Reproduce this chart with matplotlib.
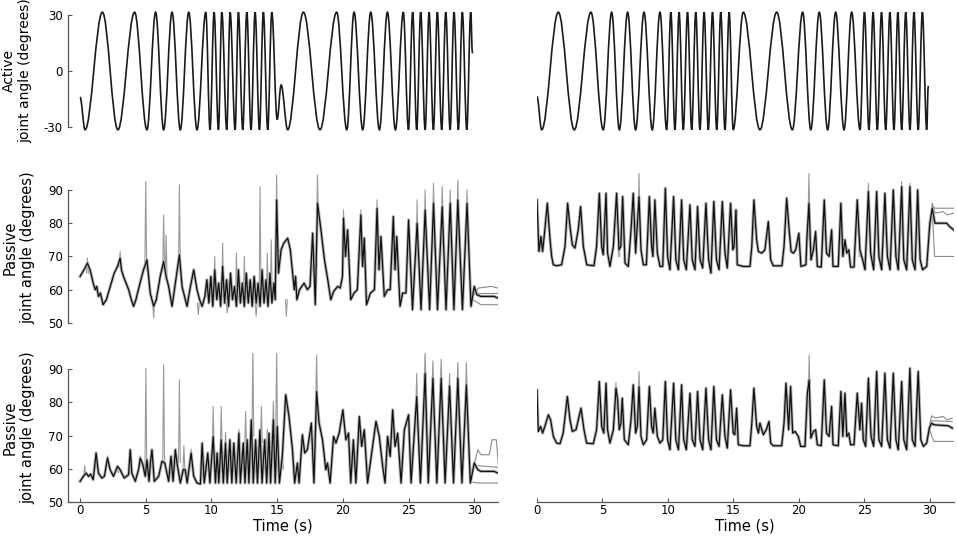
import matplotlib
matplotlib.use("Agg")
import matplotlib.pyplot as plt
from matplotlib.path import Path
from matplotlib.patches import PathPatch

# ---- active joint angle: extrema of the imposed movement (s, degrees) ----
act_left_t = [0, 0.38, 1.70, 2.88, 4.15, 5.09, 5.75, 6.36, 7.0, 7.63, 8.27, 8.9, 9.57,
              9.89, 10.2, 10.53, 10.79, 11.16, 11.42, 11.8, 12.05, 12.38, 12.69, 13.01,
              13.32, 13.65, 13.95, 14.28, 14.59, 15.0, 15.3, 15.8, 17.0, 18.26, 19.53,
              20.3, 20.85, 21.51, 22.12, 22.78, 23.39, 24.0, 24.6, 24.99, 25.31, 25.62,
              25.92, 26.26, 26.56, 26.89, 27.19, 27.52, 27.83, 28.16, 28.46, 28.79,
              29.09, 29.43, 29.73, 29.86]
act_left_v = [-14, -31.5, 31.5, -31.5, 31.5, -31.5, 31.5, -31.5, 31.5, -31.5, 31.5, -31.5, 31.5,
              -31.5, 31.5, -31.5, 31.5, -31.5, 31.5, -31.5, 31.5, -31.5, 31.5, -31.5,
              31.5, -31.5, 31.5, -31.5, 31.5, -26, -7.5, -31.5, 31.5, -31.5, 31.5,
              -31.5, 31.5, -31.5, 31.5, -31.5, 31.5, -31.5, 31.5, -31.5, 31.5, -31.5,
              31.5, -31.5, 31.5, -31.5, 31.5, -31.5, 31.5, -31.5, 31.5, -31.5,
              31.5, -31.5, 31.5, 9.5]

act_right_t = [0, 0.36, 1.63, 2.85, 4.12, 5.06, 5.7, 6.29, 6.92, 7.53, 8.17, 8.8, 9.39,
               9.9, 10.22, 10.53, 10.85, 11.17, 11.49, 11.81, 12.12, 12.44, 12.76, 13.08,
               13.4, 13.72, 14.03, 14.35, 14.67, 14.98, 15.75, 17.02, 18.3, 19.5, 20.28,
               20.9, 21.55, 22.19, 22.8, 23.44, 24.02, 24.66, 25.0, 25.34, 25.66, 25.98,
               26.3, 26.62, 26.94, 27.25, 27.55, 27.84, 28.15, 28.47, 28.78, 29.1, 29.42,
               29.75, 29.87]
act_right_v = [-13.7, -31.5, 31.5, -31.5, 31.5, -31.5, 31.5, -31.5, 31.5, -31.5, 31.5, -31.5, 31.5,
               -31.5, 31.5, -31.5, 31.5, -31.5, 31.5, -31.5, 31.5, -31.5, 31.5, -31.5,
               31.5, -31.5, 31.5, -31.5, 31.5, -31.5, 31.5, -31.5, 31.5, -31.5, 31.5,
               -31.5, 31.5, -31.5, 31.5, -31.5, 31.5, -31.5, 31.5, -31.5, 31.5, -31.5,
               31.5, -31.5, 31.5, -31.5, 31.5, -31.5, 31.5, -31.5, 31.5, -31.5, 31.5,
               -31.5, -8]

# ---- passive joint angle, middle left (mean trace) ----
pml_t = [0, 0.3, 0.56, 0.76, 1.0, 1.15, 1.27, 1.4, 1.55, 1.75, 2.0, 2.3, 2.6, 2.85, 3.05, 3.15,
         3.3, 3.5, 3.7, 3.9, 4.07, 4.25, 4.5, 4.83, 5.09, 5.34, 5.6, 5.8, 6.1, 6.36, 6.55, 6.74,
         7.0, 7.25, 7.56, 7.76, 7.95, 8.14, 8.4, 8.65, 8.9, 9.1, 9.29, 9.5, 9.65, 9.8, 9.95,
         10.1, 10.25, 10.4, 10.55, 10.7, 10.85, 11.0, 11.15, 11.3, 11.45, 11.6, 11.75, 11.9,
         12.05, 12.2, 12.35, 12.5, 12.65, 12.8, 12.95, 13.1, 13.25, 13.4, 13.55, 13.7, 13.85,
         14.0, 14.15, 14.3, 14.45, 14.6, 14.75, 14.85, 14.96, 15.1, 15.3, 15.5, 15.8, 16.0,
         16.3, 16.4, 16.5, 16.7, 17.05, 17.3, 17.5, 17.7, 17.9, 18.07, 18.3, 18.6, 18.85,
         19.08, 19.3, 19.6, 19.8, 19.97, 20.05, 20.2, 20.36, 20.6, 20.85, 21.1, 21.37, 21.5,
         21.63, 21.8, 22.1, 22.4, 22.6, 22.75, 22.9, 23.15, 23.4, 23.6, 23.84, 23.97, 24.1,
         24.35, 24.55, 24.8, 25.0, 25.3, 25.65, 25.95, 26.26, 26.6, 26.9, 27.2, 27.56, 27.85,
         28.17, 28.45, 28.75, 29.1, 29.45, 29.75, 30.0, 30.2, 30.5, 31.0, 31.5, 31.8]
pml_v = [64, 66, 68, 66, 62, 60, 61, 58, 59, 55.5, 57, 61, 65, 67, 69.5, 66,
         64, 62, 60, 57, 55, 57, 61, 66, 69, 59, 55, 57, 64, 68.5, 64, 61,
         55, 62, 70.5, 61, 58, 55, 61, 66, 60, 57, 55, 58, 63, 56, 64,
         55, 66, 57, 62, 55, 67, 56, 63, 55, 65, 57, 61, 55,
         66, 56, 62, 55, 65, 56, 63, 55, 64, 56, 62, 55, 66,
         56, 63, 55, 65, 56, 62, 57, 87, 65, 72, 74, 75.5, 72,
         60, 64, 57, 60, 62, 60, 61, 77, 55.5, 86, 79, 69, 63,
         57, 59.5, 61, 60.5, 64, 81.5, 70, 78, 57, 59, 60, 82.5, 67,
         75.5, 55.5, 59, 60, 84.5, 66, 76, 58, 60, 60, 82, 66, 76,
         55, 59, 59, 81, 54, 80, 54, 84, 54, 86, 54, 85, 54,
         86, 54, 87, 54, 86, 55, 61, 58.5, 58, 58, 58, 57.5]

# ---- passive, middle right ----
pmr_t = [0, 0.15, 0.3, 0.43, 0.6, 0.79, 1.0, 1.12, 1.25, 1.5, 1.88, 2.14, 2.34, 2.52, 2.7, 2.9,
         3.15, 3.33, 3.54, 3.8, 4.35, 4.55, 4.76, 4.94, 5.06, 5.27, 5.39, 5.57, 5.83, 6.08,
         6.26, 6.4, 6.54, 6.72, 6.97, 7.18, 7.35, 7.53, 7.79, 7.94, 8.12, 8.35, 8.58, 8.75,
         8.85, 9.0, 9.19, 9.39, 9.6, 9.8, 9.97, 10.15, 10.43, 10.6, 10.8, 11.04, 11.2, 11.4,
         11.68, 11.85, 12.06, 12.26, 12.45, 12.65, 12.9, 13.1, 13.28, 13.5, 13.7, 13.9,
         14.15, 14.35, 14.53, 14.78, 14.95, 15.05, 15.19, 15.29, 15.75, 16.26, 16.4, 16.56,
         16.77, 16.9, 17.15, 17.4, 17.66, 17.84, 18.04, 18.7, 18.86, 19.06, 19.27, 19.4,
         19.57, 19.75, 19.99, 20.15, 20.53, 20.6, 20.76, 20.92, 21.1, 21.27, 21.4, 21.7,
         21.93, 22.1, 22.3, 22.49, 22.6, 23.0, 23.2, 23.35, 23.51, 23.65, 23.8, 23.94, 24.2,
         24.45, 24.65, 24.86, 25.04, 25.3, 25.47, 25.7, 25.93, 26.1, 26.31, 26.56, 26.75,
         26.95, 27.2, 27.4, 27.58, 27.84, 28.0, 28.22, 28.47, 28.65, 28.86, 29.06, 29.25,
         29.44, 29.75, 29.99, 30.17, 30.38, 31.27, 31.5, 31.8]
pmr_v = [87, 71.5, 76, 71.5, 78, 86, 75, 70, 67.5, 67.2, 67.5, 73, 86, 79, 73.5, 72.5,
         78, 85, 73, 67.5, 67.2, 73, 89, 73, 70.5, 89, 71, 67, 73, 89,
         72, 73, 88, 68, 67, 78, 89, 71, 88, 72, 67.5, 67.5, 88, 73,
         70, 87, 71, 67, 67, 90.5, 70, 66, 88, 69, 66, 87, 69, 66,
         85.5, 69, 66, 85, 69, 66.5, 86, 69, 65, 86.5, 69, 66,
         86.5, 71, 66.5, 86, 72, 73, 84, 67.5, 67, 67, 73, 87,
         75, 71.5, 71, 72, 80.5, 69, 67.2, 67.2, 73, 87.5, 77, 71.5,
         71, 72, 77, 67, 67.5, 75, 86, 69, 72, 77.5, 67, 66.8,
         87, 71, 70, 78, 67, 67, 86, 70, 75, 71, 72, 66.8, 66.8,
         87, 72, 69, 66, 89.5, 71, 66, 89.5, 70, 66, 89, 70,
         66, 90, 70, 66, 91, 69, 66, 91, 69, 66, 90, 69,
         66, 67, 80, 84.5, 80, 80, 79, 78]

# ---- passive, bottom left ----
pbl_t = [0, 0.25, 0.46, 0.65, 0.8, 1.0, 1.22, 1.4, 1.65, 1.85, 2.09, 2.29, 2.54, 2.85, 3.05,
         3.36, 3.69, 3.82, 3.94, 4.2, 4.45, 4.58, 4.78, 4.96, 5.09, 5.25, 5.35, 5.47, 5.65,
         5.98, 6.23, 6.45, 6.74, 6.92, 7.08, 7.25, 7.38, 7.63, 7.85, 8.0, 8.15, 8.45, 8.65,
         8.9, 9.16, 9.29, 9.45, 9.72, 9.88, 10.13, 10.3, 10.43, 10.56, 10.74, 10.9, 11.07,
         11.2, 11.4, 11.55, 11.7, 11.88, 12.09, 12.2, 12.42, 12.55, 12.72, 12.85, 13.03,
         13.18, 13.36, 13.5, 13.69, 13.85, 14.05, 14.2, 14.38, 14.5, 14.71, 14.85, 15.01,
         15.17, 15.39, 15.65, 15.9, 16.16, 16.33, 16.54, 16.67, 16.92, 17.1, 17.3, 17.6,
         17.8, 18.0, 18.19, 18.45, 18.7, 18.83, 19.03, 19.29, 19.47, 19.72, 20.0, 20.23,
         20.43, 20.6, 20.8, 20.99, 21.25, 21.43, 21.63, 21.88, 22.09, 22.26, 22.52, 22.77,
         23.03, 23.21, 23.4, 23.6, 23.79, 23.97, 24.17, 24.43, 24.68, 25.0, 25.19, 25.62,
         25.9, 26.26, 26.5, 26.85, 27.15, 27.48, 27.78, 28.12, 28.42, 28.75, 29.06, 29.4,
         29.7, 30.0, 30.27, 30.5, 31.5, 31.8]
pbl_v = [56.3, 57.8, 58.8, 57.8, 58.5, 56.8, 64.8, 58.8, 57.3, 57.8, 63.3, 59.8, 57.8, 60.8, 59.8,
         57.3, 58.3, 65.8, 58.8, 56.3, 59.8, 63.3, 61.3, 57.8, 62.8, 56.3, 61.8, 65.8, 56.3,
         57.8, 62.3, 61.8, 56.3, 63.8, 56.3, 65.8, 61.8, 55.8, 59.8, 59.8, 55.8, 64.8, 57.8,
         55.8, 55.5, 67.8, 55.8, 64.8, 55.8, 69.8, 55.8, 64.8, 55.8, 68.8, 55.8, 67.8,
         55.8, 68.8, 55.8, 67.8, 55.8, 70.8, 55.8, 67.8, 55.8, 68.8, 55.8, 74.8,
         55.8, 68.8, 55.8, 71.8, 55.8, 68.8, 55.8, 70.8, 55.8, 74.8, 55.8, 72.8,
         55.8, 63.8, 82.3, 75.8, 66, 55.8, 61.8, 55.8, 70.3, 64.8, 65.8, 73.8,
         55.8, 83.3, 73.8, 68.8, 59.8, 61.8, 55.8, 69.8, 67.8, 70.8, 77.8, 68.8,
         70.8, 55.8, 68.8, 55.8, 75.8, 66.8, 71.8, 55.8, 61.8, 66.8, 74.3, 69.8,
         60.8, 55.8, 69.8, 63.8, 77.8, 66.8, 70.8, 55.8, 71.8, 76.3, 55.8, 81.8,
         55.8, 88.8, 55.8, 87.3, 55.8, 87.3, 55.8, 85, 55.8, 87.3, 55.8, 85.3,
         55.8, 61.8, 59.8, 59.3, 59.3, 58.8]

# ---- passive, bottom right ----
pbr_t = [0, 0.1, 0.28, 0.43, 0.6, 0.87, 1.04, 1.25, 1.5, 1.76, 2.0, 2.32, 2.52, 2.7, 2.98, 3.36,
         3.59, 3.79, 4.3, 4.55, 4.76, 4.94, 5.1, 5.27, 5.39, 5.57, 5.83, 6.03, 6.16, 6.28, 6.41,
         6.51, 6.67, 6.97, 7.18, 7.35, 7.53, 7.66, 7.79, 7.94, 8.12, 8.37, 8.58, 8.75, 8.87,
         9.0, 9.19, 9.39, 9.6, 9.8, 9.97, 10.15, 10.43, 10.6, 10.8, 11.04, 11.2, 11.4, 11.68,
         11.85, 12.06, 12.26, 12.45, 12.65, 12.9, 13.1, 13.28, 13.5, 13.7, 13.9, 14.15, 14.35,
         14.53, 14.78, 14.98, 15.1, 15.24, 15.37, 15.75, 16.26, 16.4, 16.56, 16.77, 16.9,
         17.02, 17.28, 17.5, 17.71, 17.84, 18.04, 18.68, 18.86, 19.01, 19.21, 19.36, 19.52,
         19.7, 19.95, 20.13, 20.46, 20.64, 20.78, 20.91, 21.1, 21.27, 21.4, 21.7, 21.93,
         22.1, 22.3, 22.49, 22.6, 23.0, 23.2, 23.35, 23.51, 23.65, 23.8, 23.94, 24.2, 24.45,
         24.65, 24.78, 24.91, 25.09, 25.3, 25.5, 25.7, 25.93, 26.1, 26.31, 26.56, 26.75,
         26.95, 27.2, 27.4, 27.58, 27.84, 28.0, 28.22, 28.47, 28.65, 28.86, 29.1, 29.3,
         29.5, 29.75, 29.95, 30.12, 30.3, 31.4, 31.7]
pbr_v = [83.8, 71.3, 72.8, 70.8, 72.8, 76.3, 74.8, 69.8, 67.8, 67.6, 70.8, 81.8, 74.8, 71.3, 71.8, 78.3,
         71.8, 67.8, 67.6, 71.8, 86.3, 72.8, 70.8, 85.8, 71.8, 67.8, 71.8, 84.3, 80.8, 71.8, 73.8,
         81.3, 68.8, 67.3, 74.8, 85.3, 70.8, 72.8, 84.8, 69.8, 67.3, 68.8, 84.8, 72.8, 70.8,
         78.3, 69.8, 67.8, 68.8, 86.3, 68.8, 65.8, 85.8, 68.8, 65.8, 85.3, 68.8, 65.8, 82.8,
         68.8, 66.8, 83.3, 68.8, 65.8, 84.3, 68.8, 65.8, 84.8, 68.8, 66.8, 82.3, 69.8,
         66.3, 83.8, 70.8, 70.3, 78.3, 67.3, 67, 67, 73.8, 84.3, 72.8, 70.8,
         73.8, 70.3, 71.8, 74.3, 67.8, 67, 67, 73.8, 85.8, 71.8, 84.8, 70.8,
         71.3, 69.8, 66.8, 66.8, 82.8, 86.8, 69.3, 71.3, 71.8, 67.3, 67, 86.8,
         70.8, 69.8, 78.8, 67.3, 67, 83.3, 69.8, 82.8, 69.8, 70.8, 67.3, 67.3, 82.8,
         71.8, 79.8, 68.8, 66.8, 87.3, 69.8, 66.8, 89.3, 68.8, 66.8, 88.8, 68.8,
         66.3, 88.8, 68.8, 65.8, 86.3, 68.8, 65.8, 90.3, 68.8, 66.8, 89.3, 68.8,
         66.8, 67.8, 72.3, 73.8, 73.3, 73, 72.3]

# ---- single-trial excursions (time, peak, base) ----
spk_ml = [(0.56, 69.5, 65), (3.05, 71.5, 67), (5.0, 92.5, 66), (6.36, 82.5, 66), (6.55, 76.5, 63),
          (7.56, 91.5, 66), (5.6, 51.5, 56), (9.0, 52.5, 56), (10.25, 70, 58), (10.85, 74, 58),
          (11.2, 53, 56), (11.9, 71, 57), (12.5, 70, 57), (13.4, 52, 56), (13.7, 91, 58),
          (14.25, 71, 57), (14.55, 75, 58), (14.96, 94.5, 70), (15.7, 52, 57), (18.07, 94.5, 80),
          (20.05, 84, 70), (21.37, 84, 70), (22.6, 87, 70), (25.65, 87, 70), (26.26, 90, 75),
          (26.9, 92, 80), (27.56, 91, 80), (28.17, 90, 78), (28.75, 93, 80), (29.45, 90, 78)]
spk_mr = [(7.79, 95, 80), (20.76, 95, 80), (6.26, 76, 70), (24.65, 76, 70), (25.3, 92, 85),
          (27.84, 92.5, 85), (28.47, 92, 85)]
spk_bl = [(0.35, 61, 58), (2.09, 64, 61), (2.85, 61, 59), (4.58, 64, 61), (5.01, 90.3, 60),
          (6.36, 91.3, 62), (7.56, 86.8, 62), (7.9, 67, 60), (8.45, 66, 62), (10.13, 78.8, 66),
          (10.74, 78.8, 66), (11.07, 71, 64), (12.09, 72, 66), (12.6, 77.3, 66), (13.15, 95.5, 70),
          (13.8, 78.8, 68), (14.25, 72, 66), (14.71, 80.3, 70), (14.96, 95.5, 70), (15.4, 65, 60),
          (18.0, 94.3, 80), (25.62, 88.8, 78), (26.26, 95.5, 85), (26.85, 92.5, 84),
          (27.48, 93, 84), (28.12, 88.8, 80), (28.75, 92, 84), (29.4, 92, 82)]
spk_br = [(20.78, 94.3, 80), (7.79, 89.3, 80), (6.03, 86, 78)]

# ---- trial traces after the movement stops ----
tail_ml = [([29.9, 30.3, 31.3, 31.8], [58, 60.5, 61, 60.5]),
           ([29.9, 30.5, 31.8], [57, 55.5, 55.5]),
           ([30.2, 31.8], [59, 59])]
tail_mr = [([29.9, 30.17, 30.4, 31.0, 31.3, 31.8], [75, 86, 83, 83.5, 82.5, 83]),
           ([30.2, 30.4, 31.8], [85, 84.5, 84.5]),
           ([30.0, 30.17, 30.35, 31.8], [78, 84, 70, 70])]
tail_bl = [([29.9, 30.27, 30.5, 31.15, 31.35, 31.68, 31.86], [60, 65.8, 64.3, 64.3, 68.8, 68.8, 59.8]),
           ([29.9, 30.3, 31.85], [56, 55.8, 55.8]),
           ([30.3, 31.85], [61, 60.5])]
tail_br = [([29.9, 30.12, 30.4, 31.0, 31.3, 31.7], [72, 76, 75.3, 75.8, 74.8, 75.3]),
           ([30.1, 31.7], [74.5, 74.3]),
           ([29.95, 30.1, 30.3, 31.8], [72.3, 70.3, 68.3, 68.3])]

time_ticks = [0, 5, 10, 15, 20, 25, 30]
active_ticks = [-30, 0, 30]
passive_ticks = [50, 60, 70, 80, 90]


def smooth_path(ts, vs, k=0.36):
    # cubic segments between extrema with flat tangents at each extremum
    verts = [(ts[0], vs[0])]
    codes = [Path.MOVETO]
    for i in range(1, len(ts)):
        d = ts[i] - ts[i - 1]
        verts += [(ts[i - 1] + k * d, vs[i - 1]), (ts[i] - k * d, vs[i]), (ts[i], vs[i])]
        codes += [Path.CURVE4] * 3
    return Path(verts, codes)


def draw_passive(ax, ts, vs, spikes, tails):
    for t, p, b in spikes:
        ax.plot([t - 0.07, t, t + 0.07], [b, p, b], color='#9a9a9a', lw=0.8, zorder=1)
    for tt, vv in tails:
        ax.plot(tt, vv, color='#8a8a8a', lw=0.8, zorder=1)
    ax.plot(ts, vs, color='#b0b0b0', lw=2.2, zorder=2)
    ax.plot(ts, vs, color='#111111', lw=0.9, zorder=3)
    ax.set_ylim(50, 95)


plt.rcParams['font.family'] = 'DejaVu Sans'
plt.rcParams['axes.unicode_minus'] = False
fig = plt.figure(figsize=(9.57, 5.37), dpi=100)

rows = [(0.7531, 0.2294), (0.3985, 0.2788), (0.0646, 0.2788)]
axs = {}
for r, (b, h) in enumerate(rows):
    axs[(r, 0)] = fig.add_axes([0.0713, b, 0.449, h])
    axs[(r, 1)] = fig.add_axes([0.5611, b, 0.4353, h])

axs[(0, 0)].add_patch(PathPatch(smooth_path(act_left_t, act_left_v), fill=False,
                                edgecolor='#1a1a1a', lw=1.2))
axs[(0, 1)].add_patch(PathPatch(smooth_path(act_right_t, act_right_v), fill=False,
                                edgecolor='#1a1a1a', lw=1.2))
for c in (0, 1):
    axs[(0, c)].set_ylim(-33, 33)

draw_passive(axs[(1, 0)], pml_t, pml_v, spk_ml, tail_ml)
draw_passive(axs[(1, 1)], pmr_t, pmr_v, spk_mr, tail_mr)
draw_passive(axs[(2, 0)], pbl_t, pbl_v, spk_bl, tail_bl)
draw_passive(axs[(2, 1)], pbr_t, pbr_v, spk_br, tail_br)

for (r, c), ax in axs.items():
    ax.set_xlim(-0.9 if c == 0 else 0, 31.8)
    for s in ('top', 'right'):
        ax.spines[s].set_visible(False)
    ax.spines['left'].set_visible(c == 0)
    ax.spines['bottom'].set_visible(r == 2)
    for s in ('left', 'bottom'):
        ax.spines[s].set_color('#555555')
        ax.spines[s].set_linewidth(0.9)
    ax.tick_params(direction='in', length=3, width=0.8, color='#555555', labelsize=8.5)
    ax.tick_params(axis='y', pad=4)
    ax.tick_params(axis='x', pad=1.5)
    if r == 2:
        ax.set_xticks(time_ticks)
        ax.set_xlabel('Time (s)', fontsize=10.5, labelpad=1)
    else:
        ax.set_xticks([])
    if c == 0:
        if r == 0:
            ax.set_yticks(active_ticks)
            ax.spines['left'].set_bounds(-30, 30)
            ax.set_ylabel('Active\njoint angle (degrees)', fontsize=10, labelpad=8)
        else:
            ax.set_yticks(passive_ticks)
            ax.spines['left'].set_bounds(50, 90)
            ax.set_ylabel('Passive\njoint angle (degrees)', fontsize=10.5, labelpad=9)
    else:
        ax.set_yticks([])

fig.savefig('out.png', dpi=100)
